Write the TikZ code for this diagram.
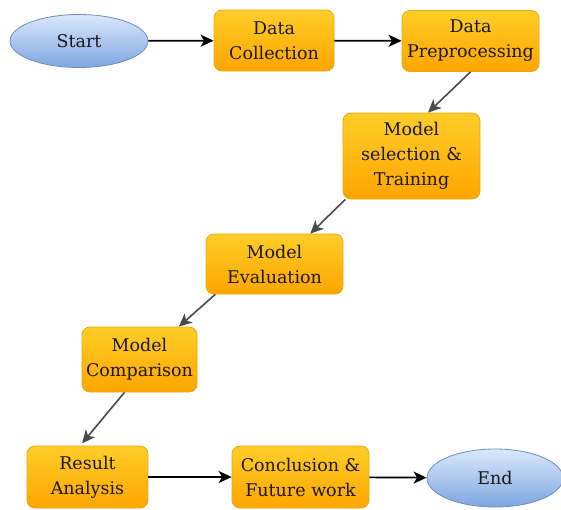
\documentclass[tikz,border=0pt]{standalone}
\usepackage{fontspec}
\setmainfont{DejaVu Serif}
\usetikzlibrary{shapes.geometric,arrows.meta,calc}

\definecolor{boxtop}{HTML}{FFCD28}
\definecolor{boxbot}{HTML}{FFA500}
\definecolor{boxline}{HTML}{E3A90E}
\definecolor{elltop}{HTML}{DAE8FC}
\definecolor{ellbot}{HTML}{7EA6E0}
\definecolor{ellline}{HTML}{6C8EBF}
\definecolor{diagline}{HTML}{4A4A4A}

\tikzset{
  stepbox/.style={rectangle, rounded corners=8pt, draw=boxline, line width=0.8pt,
    top color=boxtop, bottom color=boxbot, align=center, inner sep=0pt,
    font=\fontsize{17.5}{25}\selectfont, text=black!90},
  terminal/.style={ellipse, draw=ellline, line width=0.8pt,
    top color=elltop, bottom color=ellbot, inner sep=0pt,
    font=\fontsize{17.5}{25}\selectfont, text=black!90},
  flow/.style={line width=1.7pt, draw=black,
    -{Stealth[length=13pt,width=12pt,inset=3.5pt]}},
  diag/.style={line width=1.6pt, draw=diagline,
    -{Stealth[length=13pt,width=12pt,inset=3.5pt]}, color=diagline}
}

\begin{document}
\begin{tikzpicture}[x=1pt, y=-1pt]
  \useasboundingbox (0,0) rectangle (561,509);

  % process steps
  \node[terminal, minimum width=138pt, minimum height=53pt] (start) at (79,41) {Start};
  \node[stepbox, minimum width=120pt, minimum height=61pt] (dc) at (274,40.5) {Data\\Collection};
  \node[stepbox, minimum width=137pt, minimum height=61pt] (dp) at (470.5,41) {Data\\Preprocessing};
  \node[stepbox, minimum width=137pt, minimum height=86pt] (ms) at (411.5,156) {Model\\selection \&\\Training};
  \node[stepbox, minimum width=137pt, minimum height=60pt] (me) at (274.5,264) {Model\\Evaluation};
  \node[stepbox, minimum width=115pt, minimum height=65pt] (mc) at (139.5,359.5) {Model\\Comparison};
  \node[stepbox, minimum width=121pt, minimum height=62pt] (ra) at (87.5,477) {Result\\Analysis};
  \node[stepbox, minimum width=137pt, minimum height=62pt] (cf) at (300.5,477) {Conclusion \&\\Future work};
  \node[terminal, minimum width=136pt, minimum height=58pt] (end) at (495,478) {End};

  % straight connectors
  \draw[flow] (start) -- (dc);
  \draw[flow] (dc) -- (dp);
  \draw[flow] (ra) -- (cf);
  \draw[flow] (cf) -- (end);

  % diagonal connectors
  \draw[diag] (dp.south) -- ($(ms.north west)!0.62!(ms.north east)$);
  \draw[diag] ($(ms.south west)!0.02!(ms.south east)$) -- ($(me.north west)!0.76!(me.north east)$);
  \draw[diag] ($(me.south west)!0.07!(me.south east)$) -- ($(mc.north west)!0.84!(mc.north east)$);
  \draw[diag, shorten >=3pt] ($(mc.south west)!0.37!(mc.south east)$) -- ($(ra.north west)!0.44!(ra.north east)$);
\end{tikzpicture}
\end{document}
